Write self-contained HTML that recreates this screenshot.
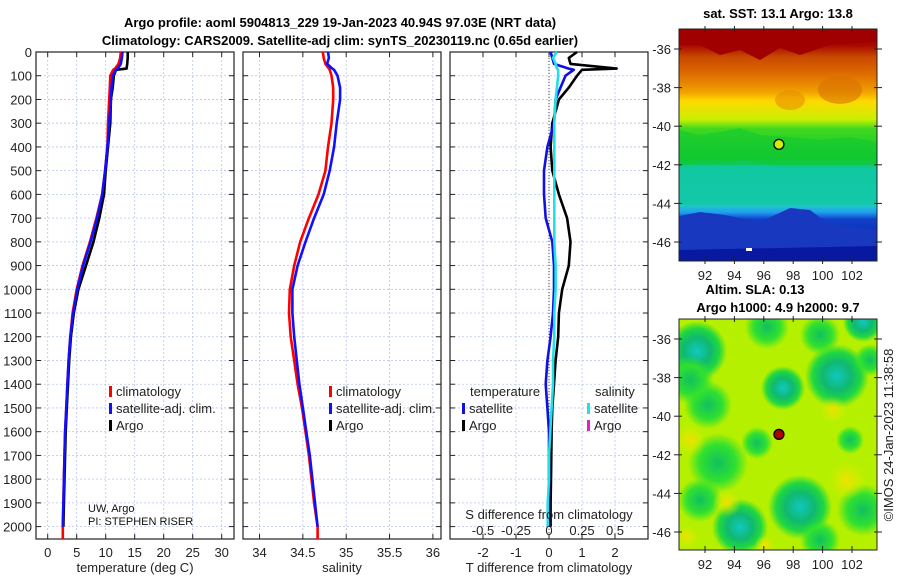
<!DOCTYPE html>
<html><head><meta charset="utf-8"><style>
body{margin:0;background:#fff;}
svg{display:block;font-family:"Liberation Sans","DejaVu Sans",sans-serif;}
.t{font-size:13px;fill:#222}
.b{font-size:13px;font-weight:bold;fill:#000}
</style></head><body>
<svg id="fig" width="900" height="580" viewBox="0 0 900 580">
<defs>
<linearGradient id="sstg" x1="0" y1="0" x2="0" y2="1">
<stop offset="0" stop-color="#a00000"/><stop offset="0.07" stop-color="#a80800"/>
<stop offset="0.12" stop-color="#c84800"/><stop offset="0.2" stop-color="#e07000"/>
<stop offset="0.27" stop-color="#f0a000"/><stop offset="0.31" stop-color="#ffd800"/>
<stop offset="0.39" stop-color="#c8f000"/><stop offset="0.43" stop-color="#40d820"/>
<stop offset="0.56" stop-color="#10c830"/><stop offset="0.6" stop-color="#10c8a0"/>
<stop offset="0.76" stop-color="#20c8c8"/><stop offset="0.79" stop-color="#20a0f0"/>
<stop offset="0.82" stop-color="#1040c8"/><stop offset="1" stop-color="#0818a0"/>
</linearGradient>
<radialGradient id="tealblob"><stop offset="0" stop-color="#10c8c0"/><stop offset="0.45" stop-color="#10b870"/><stop offset="0.75" stop-color="#20d840"/><stop offset="1" stop-color="#20d840" stop-opacity="0"/></radialGradient>
<radialGradient id="greenblob"><stop offset="0" stop-color="#10c060"/><stop offset="0.6" stop-color="#30e030"/><stop offset="1" stop-color="#30e030" stop-opacity="0"/></radialGradient>
<radialGradient id="yelblob"><stop offset="0" stop-color="#f0e000"/><stop offset="1" stop-color="#d8f000" stop-opacity="0"/></radialGradient>
</defs>
<text class="b" x="340" y="27" text-anchor="middle">Argo profile: aoml 5904813_229 19-Jan-2023 40.94S 97.03E (NRT data)</text>
<text class="b" x="340" y="45" text-anchor="middle">Climatology: CARS2009. Satellite-adj clim: synTS_20230119.nc (0.65d earlier)</text>
<g id="panels"></g>
<g id="maps"></g>
<text class="t" x="893" y="435" text-anchor="middle" transform="rotate(-90 893 435)">©IMOS 24-Jan-2023 11:38:58</text>
</svg>
<script>
const depths=[0,25,50,70,75,100,150,200,300,400,500,600,700,800,900,1000,1100,1200,1300,1400,1500,1600,1700,1800,1900,2000];
const tempClim=[12.6,12.5,12.2,11.6,11.3,10.8,10.7,10.6,10.4,10.3,9.9,9.4,8.4,7.3,6.0,5.0,4.3,3.9,3.6,3.4,3.2,3.0,2.9,2.8,2.7,2.6];
const tempSat=[12.9,12.8,12.6,12.1,11.8,11.2,11.0,10.9,10.6,10.3,9.9,9.4,8.5,7.4,6.1,5.1,4.4,3.9,3.6,3.4,3.2,3.0,2.9,2.8,2.7,2.6];
const tempArgo=[13.8,13.8,13.7,13.6,11.8,11.4,11.2,10.9,10.8,10.4,10.0,9.7,8.9,7.9,6.6,5.3,4.5,4.0,3.7,3.5,3.3,3.1,3.0,2.9,2.8,2.7];
const saltClim=[34.73,34.74,34.76,34.80,34.81,34.83,34.85,34.85,34.83,34.79,34.76,34.68,34.57,34.47,34.40,34.35,34.34,34.36,34.40,34.44,34.49,34.53,34.57,34.60,34.63,34.67];
const saltSat=[34.79,34.80,34.78,34.84,34.86,34.90,34.93,34.93,34.89,34.86,34.81,34.74,34.63,34.53,34.44,34.38,34.38,34.40,34.43,34.46,34.50,34.54,34.58,34.61,34.64,34.67];
const tDiffArgo=[0.85,0.6,0.65,2.05,1.0,0.85,0.6,0.3,0.1,0.05,0.1,0.3,0.55,0.65,0.6,0.4,0.3,0.28,0.2,0.15,0.1,0.08,0.07,0.06,0.05,0.05];
const tDiffSat=[0.05,0.1,0.15,0.6,0.75,0.5,0.35,0.2,0.15,-0.05,-0.15,-0.15,-0.1,0.1,0.15,0.15,0.12,0.05,-0.05,-0.1,-0.05,0,0,0,0,0];
const sDiffSat=[0.06,0.03,0.05,0.06,0.07,0.07,0.06,0.05,0.04,0.04,0.04,0.04,0.04,0.04,0.05,0.05,0.04,0.04,0.03,0.03,0.02,0.01,0.0,0.0,-0.01,-0.01];
const depthTicks=[0,100,200,300,400,500,600,700,800,900,1000,1100,1200,1300,1400,1500,1600,1700,1800,1900,2000];
const tempTicks=[0,5,10,15,20,25,30];
const saltTicks=[34,34.5,35,35.5,36];
const tDiffTicks=[-2,-1,0,1,2];
const sDiffTicks=[-0.5,-0.25,0,0.25,0.5];
const sDiffTickLabels=["-0.5","-0.25","0","0.25","0.5"];
const lonTicks=[92,94,96,98,100,102];
const latTicks=[-36,-38,-40,-42,-44,-46];
const floatLon=[97.03], floatLat=[-40.94];

const NS="http://www.w3.org/2000/svg";
function mk(tag,attrs,parent,txt){const e=document.createElementNS(NS,tag);for(const k in attrs)e.setAttribute(k,attrs[k]);if(txt!==undefined)e.textContent=txt;parent.appendChild(e);return e;}
const yD=d=>52+d*0.2373;
const xT=t=>47.7+t*5.8;
const xS=s=>259.5+(s-34)*86.7;
const xTD=d=>549+d*33;
const xSD=s=>549+s*132;
const TOP=52,BOT=539;
const P=document.getElementById('panels');

function panel(name,x0,x1,xTicks,xf,labels,xtitle,showDepth){
  const g=mk('g',{},P);
  
  
  for(const d of depthTicks){const l=mk('line',{x1:x0,x2:x1,y1:yD(d),y2:yD(d),stroke:'#b8c4ee','stroke-width':0.8,'stroke-dasharray':'2,2'},g);
    }
  xTicks.forEach((v)=>{const l=mk('line',{x1:xf(v),x2:xf(v),y1:TOP,y2:BOT,stroke:'#b8c4ee','stroke-width':0.8,'stroke-dasharray':'2,2'},g);
    });
  const fr=mk('rect',{x:x0,y:TOP,width:x1-x0,height:BOT-TOP,fill:'none',stroke:'#222','stroke-width':1.2},g);
  
  for(const d of depthTicks){mk('line',{x1:x0,x2:x0+5,y1:yD(d),y2:yD(d),stroke:'#222'},g);mk('line',{x1:x1-5,x2:x1,y1:yD(d),y2:yD(d),stroke:'#222'},g);
    if(showDepth){const t=mk('text',{x:x0-4,y:yD(d)+5,'text-anchor':'end',class:'t'},g,String(d));}}
  xTicks.forEach((v,i)=>{mk('line',{x1:xf(v),x2:xf(v),y1:BOT-5,y2:BOT,stroke:'#222'},g);mk('line',{x1:xf(v),x2:xf(v),y1:TOP,y2:TOP+5,stroke:'#222'},g);
    const t=mk('text',{x:xf(v),y:557,'text-anchor':'middle',class:'t'},g,labels[i]);});
  const tt=mk('text',{x:(x0+x1)/2,y:572,'text-anchor':'middle',class:'t'},g,xtitle);
  
  return g;
}
function line(g,vals,xf,color,name,w,maxD){
  const pts=[];depths.forEach((d,i)=>{if(maxD===undefined||d<=maxD)pts.push(xf(vals[i]).toFixed(1)+','+yD(d).toFixed(1));});
  if(maxD===undefined)pts.push(xf(vals[vals.length-1]).toFixed(1)+','+BOT);
  const p=mk('polyline',{points:pts.join(' '),fill:'none',stroke:color,'stroke-width':w||2.6,'stroke-linejoin':'round'},g);
  
}
function legend(g,x,y,items){
  items.forEach((it,i)=>{const r=mk('rect',{x:x,y:y+i*17-10,width:3,height:11,fill:it[0]},g);
    
    const t=mk('text',{x:x+7,y:y+i*17,class:'t'},g,it[1]);});
}
const g1=panel('temperature-panel',36,234,tempTicks,xT,tempTicks.map(String),'temperature (deg C)',true);
line(g1,tempClim,xT,'#ff0000','temp-climatology-line');
line(g1,tempArgo,xT,'#000000','temp-argo-line',2.6,2000);
line(g1,tempSat,xT,'#1010ff','temp-satellite-line',2.6,2000);
legend(g1,109,396,[['#ff0000','climatology'],['#1010ff','satellite-adj. clim.'],['#000','Argo']]);
const u1=mk('text',{x:88,y:512,style:'font-size:11px;fill:#111'},g1,'UW, Argo');
const u2=mk('text',{x:88,y:525,style:'font-size:11px;fill:#111'},g1,'PI: STEPHEN RISER');
const g2=panel('salinity-panel',243,441,saltTicks,xS,saltTicks.map(String),'salinity',false);
line(g2,saltClim,xS,'#ff0000','salt-climatology-line');
line(g2,saltSat,xS,'#1010ff','salt-satellite-line',2.6,2000);
legend(g2,329,396,[['#ff0000','climatology'],['#1010ff','satellite-adj. clim.'],['#000','Argo']]);
const g3=panel('difference-panel',450,648,tDiffTicks,xTD,tDiffTicks.map(String),'T difference from climatology',false);
const zl=mk('line',{x1:xTD(0),x2:xTD(0),y1:TOP,y2:BOT,stroke:'#444','stroke-width':1,'stroke-dasharray':'1,2'},g3);

line(g3,tDiffArgo,xTD,'#000000','temp-diff-argo-line',2.6,2000);
line(g3,tDiffSat,xTD,'#1010e0','temp-diff-satellite-line',2.6,2000);
line(g3,sDiffSat,xSD,'#20e0e8','salt-diff-satellite-line',2.6,2000);
const lt=mk('text',{x:470,y:396,class:'t'},g3,'temperature');
const ls=mk('text',{x:595,y:396,class:'t'},g3,'salinity');
legend(g3,462,413,[['#1010e0','satellite'],['#000','Argo']]);
legend(g3,587,413,[['#20e0e8','satellite'],['#e020d0','Argo']]);
const st=mk('text',{x:549,y:519,'text-anchor':'middle',class:'t'},g3,'S difference from climatology');
sDiffTicks.forEach((v,i)=>{mk('line',{x1:xSD(v),x2:xSD(v),y1:BOT-5,y2:BOT,stroke:'#222'},g3);
  const t=mk('text',{x:xSD(v),y:535,'text-anchor':'middle',class:'t'},g3,sDiffTickLabels[i]);});

const M=document.getElementById('maps');
const mx=lon=>705+(lon-92)*14.7;
function mapAxes(g,top,bot,y36){
  const my=lat=>y36+(-36-lat)*19.3;
  mk('rect',{x:679,y:top,width:198,height:bot-top,fill:'none',stroke:'#222','stroke-width':1},g);
  lonTicks.forEach(v=>{mk('line',{x1:mx(v),x2:mx(v),y1:bot-4,y2:bot+3,stroke:'#222'},g);mk('line',{x1:mx(v),x2:mx(v),y1:top-3,y2:top+3,stroke:'#222'},g);
    const t=mk('text',{x:mx(v),y:bot+19,'text-anchor':'middle',class:'t'},g,String(v));});
  latTicks.forEach(v=>{mk('line',{x1:674,x2:682,y1:my(v),y2:my(v),stroke:'#222'},g);mk('line',{x1:874,x2:882,y1:my(v),y2:my(v),stroke:'#222'},g);
    const t=mk('text',{x:671,y:my(v)+5,'text-anchor':'end',class:'t'},g,String(v));});
  return my;
}
const gm1=mk('g',{},M);


mk('rect',{x:679,y:29,width:198,height:232,fill:'url(#sstg)'},gm1);
mk('path',{d:'M679,45 L700,45 L720,55 L740,50 L760,60 L780,48 L800,55 L830,45 L877,42 L877,29 L679,29Z',fill:'#a00000'},gm1);
mk('path',{d:'M679,168 L700,162 L720,163 L745,160 L770,165 L790,172 L820,168 L850,172 L877,170 L877,205 L679,205Z',fill:'#10c8a0',opacity:0.75},gm1);
mk('path',{d:'M679,130 L700,135 L720,132 L740,128 L760,135 L790,137 L820,140 L850,137 L877,142 L877,165 L679,165Z',fill:'#10c830',opacity:0.6},gm1);
mk('path',{d:'M679,216 L700,212 L725,215 L760,222 L790,208 L810,210 L830,225 L877,230 L877,261 L679,261Z',fill:'#1838c0'},gm1);
mk('path',{d:'M679,250 L877,246 L877,261 L679,261Z',fill:'#0818a0'},gm1);
mk('ellipse',{cx:840,cy:90,rx:22,ry:14,fill:'#d87000',opacity:0.6},gm1);
mk('ellipse',{cx:790,cy:100,rx:15,ry:10,fill:'#e89000',opacity:0.6},gm1);
mk('rect',{x:746,y:248,width:6,height:3,fill:'#fff'},gm1);
const ym1=mapAxes(gm1,29,261,49);
const c1=mk('circle',{cx:mx(floatLon[0]),cy:ym1(floatLat[0]),r:5,fill:'#c8f000',stroke:'#000','stroke-width':1.3},gm1);

const tm1=mk('text',{x:778,y:18,'text-anchor':'middle',class:'b'},gm1,'sat. SST: 13.1 Argo: 13.8');
const gm2=mk('g',{},M);


mk('clipPath',{id:'clip2'},gm2);
mk('rect',{x:679,y:319,width:198,height:231},document.getElementById('clip2'));
const inner=mk('g',{'clip-path':'url(#clip2)'},gm2);
mk('rect',{x:679,y:319,width:198,height:231,fill:'#b4f000'},inner);
[[697,351,30,'tealblob'],[837,376,32,'tealblob'],[783,388,22,'tealblob'],[800,507,32,'tealblob'],[740,527,28,'tealblob'],[863,322,20,'tealblob'],
 [708,405,24,'greenblob'],[718,463,30,'greenblob'],[863,510,26,'greenblob'],[767,327,22,'greenblob'],[757,443,16,'greenblob'],[690,380,24,'greenblob'],
 [820,335,20,'greenblob'],[700,500,22,'greenblob'],[850,440,14,'greenblob'],[820,540,20,'greenblob'],[870,360,16,'greenblob'],
 [690,440,16,'yelblob'],[847,480,20,'yelblob'],[727,503,14,'yelblob'],[687,537,12,'yelblob'],[833,410,14,'yelblob'],[765,545,10,'yelblob']].forEach(b=>{
  mk('circle',{cx:b[0],cy:b[1],r:b[2],fill:'url(#'+b[3]+')'},inner);});
const ym2=mapAxes(gm2,319,550,339);
const c2=mk('circle',{cx:mx(floatLon[0]),cy:ym2(floatLat[0]),r:5,fill:'#b00000',stroke:'#000','stroke-width':1.3},gm2);

const tm2=mk('text',{x:755,y:294,'text-anchor':'middle',class:'b'},gm2,'Altim. SLA: 0.13');
const tm3=mk('text',{x:778,y:312,'text-anchor':'middle',class:'b'},gm2,'Argo h1000: 4.9 h2000: 9.7');
</script>
</body></html>
